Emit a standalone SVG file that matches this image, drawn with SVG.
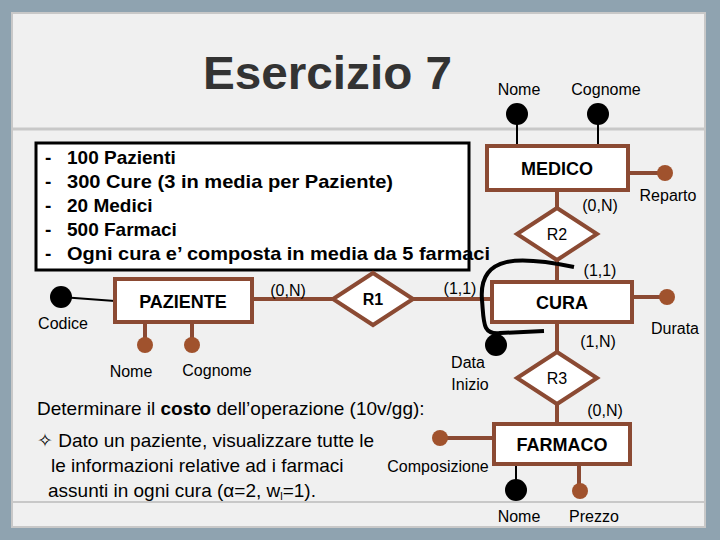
<svg xmlns="http://www.w3.org/2000/svg" width="720" height="540" viewBox="0 0 720 540">
<style>
text{font-family:"Liberation Sans",Arial,sans-serif;fill:#000}
.ent{fill:#fff;stroke:#8B4A33;stroke-width:4}
.ln{stroke:#8B4A33;stroke-width:4;fill:none}
.bl{stroke:#000;stroke-width:2;fill:none}
.bd{fill:#000}
.brd{fill:#A0522D}
.et{font-size:18px;font-weight:bold;text-anchor:middle}
.at{font-size:16px}
.ct{font-size:16px;text-anchor:middle}
.bt{font-size:19px;font-weight:bold}
.nt{font-size:19px}
</style>
<rect width="720" height="540" fill="#8fa3b0"/>
<rect x="12" y="13" width="693" height="514" fill="#f0f0f0" stroke="#c8c8c8" stroke-width="2"/>
<line x1="12" y1="129" x2="705" y2="129" stroke="#c8c8c8" stroke-width="3"/>
<line x1="12" y1="502" x2="705" y2="502" stroke="#c8c8c8" stroke-width="2"/>
<text x="203" y="89" font-size="46" font-weight="bold" textLength="249" lengthAdjust="spacingAndGlyphs" style="fill:#333">Esercizio 7</text>

<g id="connectors">
<line class="bl" x1="517" y1="114" x2="517" y2="146"/>
<line class="bl" x1="598" y1="114" x2="598" y2="146"/>
<line class="ln" x1="628" y1="173" x2="660" y2="173"/>
<line class="ln" x1="557" y1="190" x2="557" y2="282"/>
<line class="ln" x1="252" y1="299" x2="492" y2="299"/>
<line class="ln" x1="632" y1="297" x2="662" y2="297"/>
<line class="ln" x1="557" y1="322" x2="557" y2="424"/>
<line class="ln" x1="445" y1="438" x2="494" y2="438"/>
<line class="bl" x1="516" y1="464" x2="516" y2="490"/>
<line class="ln" x1="579" y1="464" x2="579" y2="491"/>
<line class="bl" x1="61" y1="297" x2="115" y2="301"/>
<line class="ln" x1="145" y1="322" x2="145" y2="345"/>
<line class="ln" x1="192" y1="322" x2="192" y2="345"/>
<path d="M574,267 C520,256 478,254 482,300 C484,322 482,335 500,333 L544,331" stroke="#000" stroke-width="4" fill="none"/>
</g>

<g id="textbox">
<rect x="36" y="143" width="433" height="127" fill="#fff" stroke="#000" stroke-width="3"/>
<text class="bt" x="45" y="164">-</text><text class="bt" x="67" y="164">100 Pazienti</text>
<text class="bt" x="45" y="188">-</text><text class="bt" x="67" y="188" textLength="326" lengthAdjust="spacingAndGlyphs">300 Cure (3 in media per Paziente)</text>
<text class="bt" x="45" y="212">-</text><text class="bt" x="67" y="212">20 Medici</text>
<text class="bt" x="45" y="236">-</text><text class="bt" x="67" y="236">500 Farmaci</text>
<text class="bt" x="45" y="260">-</text><text class="bt" x="67" y="260" textLength="423" lengthAdjust="spacingAndGlyphs">Ogni cura e’ composta in media da 5 farmaci</text>
</g>

<g id="MEDICO"><rect class="ent" x="487" y="146" width="141" height="44"/><text class="et" x="557" y="175">MEDICO</text></g>
<g id="R2"><polygon class="ent" points="557,208 597,234 557,260 517,234"/><text class="ct" x="557" y="240">R2</text></g>
<g id="CURA"><rect class="ent" x="492" y="282" width="140" height="40"/><text class="et" x="562" y="309">CURA</text></g>
<g id="R3"><polygon class="ent" points="557,352 597,378 557,404 517,378"/><text class="ct" x="557" y="384">R3</text></g>
<g id="FARMACO"><rect class="ent" x="494" y="424" width="136" height="40"/><text class="et" x="562" y="451">FARMACO</text></g>
<g id="PAZIENTE"><rect class="ent" x="115" y="279" width="137" height="43"/><text class="et" x="183" y="308">PAZIENTE</text></g>
<g id="R1"><polygon class="ent" points="373,273 413,299 373,325 333,299"/><text class="ct" x="373" y="305" font-weight="bold">R1</text></g>

<g id="attributes">
<circle class="bd" cx="517" cy="114" r="11"/><text class="ct" x="519" y="95">Nome</text>
<circle class="bd" cx="598" cy="114" r="11"/><text class="ct" x="606" y="95">Cognome</text>
<circle class="brd" cx="665" cy="173" r="8"/><text class="ct" x="668" y="201">Reparto</text>
<circle class="brd" cx="667" cy="297" r="8"/><text class="ct" x="675" y="334">Durata</text>
<circle class="bd" cx="496" cy="345" r="11"/><text class="ct" x="468" y="368">Data</text><text class="ct" x="470" y="390">Inizio</text>
<circle class="brd" cx="440" cy="438" r="8"/><text class="ct" x="438" y="472">Composizione</text>
<circle class="bd" cx="516" cy="490" r="11"/><text class="ct" x="519" y="522">Nome</text>
<circle class="brd" cx="580" cy="491" r="8"/><text class="ct" x="594" y="522">Prezzo</text>
<circle class="bd" cx="61" cy="297" r="11"/><text class="ct" x="63" y="329">Codice</text>
<circle class="brd" cx="145" cy="345" r="8"/><text class="ct" x="131" y="377">Nome</text>
<circle class="brd" cx="192" cy="345" r="8"/><text class="ct" x="217" y="376">Cognome</text>
</g>

<g id="cardinalities">
<text class="ct" x="600" y="211">(0,N)</text>
<text class="ct" x="600" y="276">(1,1)</text>
<text class="ct" x="288" y="296">(0,N)</text>
<text class="ct" x="460" y="294">(1,1)</text>
<text class="ct" x="598" y="347">(1,N)</text>
<text class="ct" x="605" y="416">(0,N)</text>
</g>

<text class="nt" x="37" y="415" font-size="18">Determinare il <tspan font-weight="bold">costo</tspan> dell’operazione (10v/gg):</text>
<text class="nt" x="37" y="447" font-size="18">✧  Dato un paziente, visualizzare tutte le</text>
<text class="nt" x="51" y="472" font-size="18">le informazioni relative ad i farmaci</text>
<text class="nt" x="48" y="497" font-size="18">assunti in ogni cura (α=2, w<tspan font-size="11" dy="3">l</tspan><tspan dy="-3">=1).</tspan></text>
</svg>
